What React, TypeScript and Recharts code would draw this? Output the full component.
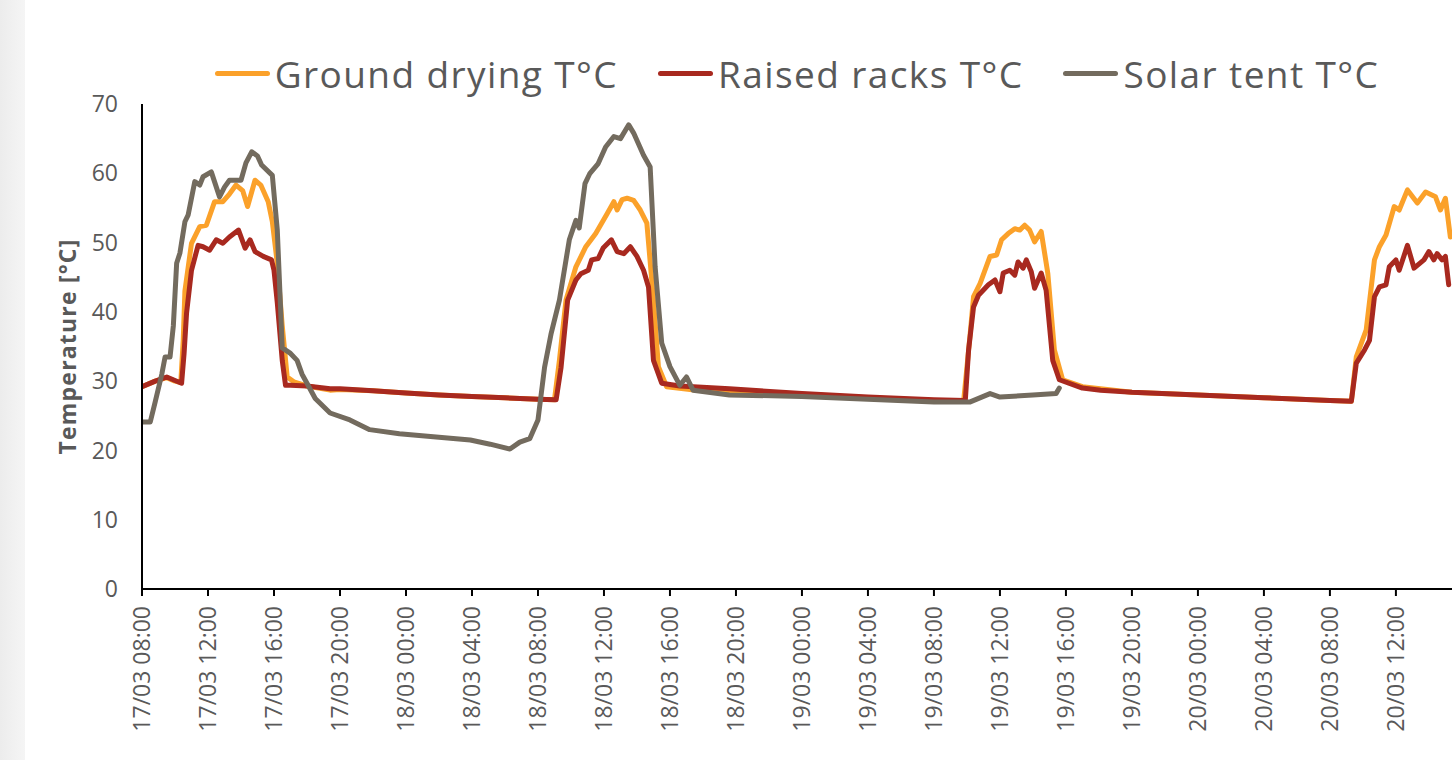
import { CartesianGrid, Line, LineChart, XAxis, YAxis } from "recharts";

// hours since 17/03 08:00, temperature in °C
const groundDrying: [number, number][] = [
  [0, 29.2], [0.8, 30.0], [1.5, 30.5], [2.0, 30.0], [2.35, 29.8], [2.5, 36], [2.6, 43], [3.0, 49.9],
  [3.5, 52.3], [3.9, 52.5], [4.4, 55.9], [4.9, 55.9], [5.3, 57.0], [5.7, 58.3], [6.1, 57.5], [6.4, 55.2],
  [6.85, 59], [7.2, 58.3], [7.65, 55.9], [7.9, 53], [8.2, 47], [8.5, 38], [8.8, 30.6], [9.2, 29.9],
  [10, 29.3], [11.4, 28.7], [12, 28.8], [14, 28.6], [16, 28.3], [18, 28.0], [20, 27.8], [22, 27.6],
  [24, 27.4], [25.0, 27.3], [25.3, 33], [25.7, 41.7], [26.3, 46.5], [26.9, 49.4], [27.5, 51.3],
  [28.2, 54.2], [28.6, 55.9], [28.8, 54.7], [29.1, 56.2], [29.4, 56.4], [29.8, 56.1], [30.2, 54.7],
  [30.6, 52.8], [31.0, 41.7], [31.3, 32.1], [31.8, 29.2], [33.6, 28.7], [36, 28.5], [40, 28.1],
  [44, 27.6], [48, 27.2], [49.8, 27.1], [50.2, 36.9], [50.4, 42.2], [50.8, 44.1], [51.4, 48],
  [51.8, 48.2], [52.1, 50.4], [52.5, 51.3], [52.9, 52], [53.2, 51.8], [53.5, 52.5], [53.8, 51.8],
  [54.1, 50.1], [54.5, 51.6], [54.9, 45.6], [55.3, 34.5], [55.8, 30.2], [57, 29.2], [60, 28.4],
  [64, 28.0], [68, 27.6], [72, 27.2], [73.3, 27.1], [73.6, 33.5], [74.2, 37.4], [74.7, 47.5],
  [75.0, 49.4], [75.4, 51.1], [75.9, 55.2], [76.2, 54.7], [76.7, 57.6], [77.3, 55.7], [77.8, 57.3],
  [78.4, 56.6], [78.7, 54.7], [79.0, 56.4], [79.3, 50.8],
];

const raisedRacks: [number, number][] = [
  [0, 29.2], [0.8, 30.0], [1.5, 30.6], [2.0, 30.1], [2.4, 29.7], [2.55, 34], [2.7, 39.8], [3.0, 46],
  [3.4, 49.6], [3.7, 49.4], [4.1, 48.9], [4.5, 50.4], [4.9, 49.9], [5.3, 50.8], [5.85, 51.8],
  [6.25, 49.2], [6.55, 50.4], [6.85, 48.7], [7.35, 48], [7.85, 47.5], [8.0, 46], [8.2, 41.3],
  [8.5, 33], [8.7, 29.4], [9.0, 29.4], [10, 29.3], [11.4, 28.9], [12, 28.9], [14, 28.6], [16, 28.3],
  [18, 28.0], [20, 27.8], [22, 27.6], [24, 27.4], [25.1, 27.3], [25.4, 32], [25.8, 41.7], [26.3, 44.6],
  [26.6, 45.5], [27.05, 46], [27.25, 47.5], [27.65, 47.7], [27.95, 49.2], [28.45, 50.4], [28.8, 48.7],
  [29.2, 48.4], [29.6, 49.4], [30.0, 48], [30.4, 46], [30.7, 43.6], [31.0, 33], [31.5, 29.7],
  [32.6, 29.3], [35.6, 28.9], [40, 28.2], [44, 27.7], [48, 27.3], [49.9, 27.2], [50.1, 34.5],
  [50.4, 40.7], [50.7, 42.4], [51.3, 43.9], [51.7, 44.6], [52.0, 42.9], [52.2, 45.6], [52.6, 46],
  [52.9, 45.3], [53.1, 47.2], [53.4, 46.3], [53.6, 47.5], [53.9, 45.8], [54.1, 43.4], [54.5, 45.6],
  [54.8, 43.1], [55.2, 33], [55.6, 30.2], [57, 29.0], [58.1, 28.7], [60, 28.4], [64, 28.0], [68, 27.6],
  [72, 27.2], [73.3, 27.1], [73.6, 32.6], [74.1, 34.5], [74.4, 35.9], [74.7, 42.2], [75.0, 43.6],
  [75.4, 43.9], [75.6, 46.5], [76.0, 47.5], [76.2, 46], [76.7, 49.6], [77.1, 46.3], [77.7, 47.5],
  [78.0, 48.7], [78.3, 47.5], [78.5, 48.4], [78.8, 47.5], [79.0, 48], [79.2, 43.9],
];

const solarTent: [number, number][] = [
  [0, 24.1], [0.5, 24.1], [0.8, 27], [1.2, 31], [1.4, 33.5], [1.7, 33.5], [1.9, 38], [2.1, 47],
  [2.3, 48.5], [2.6, 53], [2.8, 54], [3.2, 58.8], [3.5, 58.3], [3.7, 59.5], [4.2, 60.2], [4.7, 56.6],
  [5.0, 58], [5.3, 59], [6.0, 59], [6.3, 61.5], [6.65, 63.1], [7.0, 62.5], [7.25, 61.2], [7.9, 59.7],
  [8.2, 51.8], [8.5, 34.8], [9.0, 34.0], [9.4, 33], [9.7, 31], [10.0, 29.7], [10.5, 27.5], [11.4, 25.4],
  [12.6, 24.4], [13.8, 23], [15.6, 22.4], [18, 21.9], [19.9, 21.5], [21.1, 20.9], [22.3, 20.2],
  [22.9, 21.2], [23.5, 21.7], [24.0, 24.4], [24.4, 32], [24.8, 36.9], [25.3, 41.7], [25.9, 50.4],
  [26.3, 53.2], [26.5, 52.1], [26.85, 58.5], [27.15, 60], [27.65, 61.4], [28.1, 63.8], [28.6, 65.3],
  [29.0, 65], [29.5, 67], [29.8, 65.8], [30.4, 62.6], [30.8, 60.9], [31.1, 46.5], [31.5, 35.5],
  [32.0, 32.1], [32.6, 29.4], [33.0, 30.6], [33.4, 28.7], [35.6, 28.0], [40, 27.8], [44, 27.4],
  [48, 27.0], [50.2, 27.0], [51.4, 28.2], [52, 27.7], [54, 28.0], [55.4, 28.2], [55.6, 29.0],
];

const tickHours = [0, 4, 8, 12, 16, 20, 24, 28, 32, 36, 40, 44, 48, 52, 56, 60, 64, 68, 72, 76];
const tickLabels = [
  "17/03 08:00", "17/03 12:00", "17/03 16:00", "17/03 20:00",
  "18/03 00:00", "18/03 04:00", "18/03 08:00", "18/03 12:00", "18/03 16:00", "18/03 20:00",
  "19/03 00:00", "19/03 04:00", "19/03 08:00", "19/03 12:00", "19/03 16:00", "19/03 20:00",
  "20/03 00:00", "20/03 04:00", "20/03 08:00", "20/03 12:00",
];
const yTicks = [0, 10, 20, 30, 40, 50, 60, 70];

const series = [
  { name: "Ground drying T°C", color: "#FBA12A", points: groundDrying },
  { name: "Raised racks T°C", color: "#A8291F", points: raisedRacks },
  { name: "Solar tent T°C", color: "#736B5E", points: solarTent },
];

const font = "'Open Sans', sans-serif";
const textColor = "#595959";

const XTick = ({ x, y, payload }: any) => (
  <g transform={`translate(${x},${y})`}>
    <text transform="rotate(-90)" x={-8} y={0} dy="0.36em" textAnchor="end" fill={textColor} fontSize={23} fontFamily={font}>
      {tickLabels[tickHours.indexOf(payload.value)]}
    </text>
  </g>
);

export default function App() {
  return (
    <div style={{ position: "absolute", left: 0, top: 0, width: 1452, height: 760, overflow: "hidden", background: "#fff" }}>
      <div style={{ position: "absolute", left: 0, top: 0, width: 25, height: 760, background: "linear-gradient(90deg, #ececec, #f5f5f5)" }} />
      <div style={{ position: "absolute", left: 142, top: 50, width: 1310, height: 46, display: "flex", justifyContent: "center", alignItems: "center", gap: 40, fontFamily: font, fontSize: 37, letterSpacing: 1.4, color: textColor }}>
        {series.map((s) => (
          <span key={s.name} style={{ display: "flex", alignItems: "center", gap: 5 }}>
            <span style={{ width: 55, height: 5, borderRadius: 3, background: s.color }} />
            {s.name}
          </span>
        ))}
      </div>
      <LineChart width={1452} height={760} margin={{ top: 104, right: 0, bottom: 11, left: 22 }}>
        <CartesianGrid stroke="none" />
        <XAxis
          dataKey="h"
          type="number"
          domain={[0, 79.4]}
          allowDataOverflow
          ticks={tickHours}
          interval={0}
          height={160}
          tick={<XTick />}
          tickSize={7}
          axisLine={{ stroke: "#000", strokeWidth: 2 }}
          tickLine={{ stroke: "#000", strokeWidth: 2 }}
        />
        <YAxis
          type="number"
          domain={[0, 70]}
          ticks={yTicks}
          width={120}
          tickSize={0}
          tickMargin={24}
          tick={{ fill: textColor, fontSize: 23, fontFamily: font }}
          axisLine={{ stroke: "#000", strokeWidth: 2 }}
          tickLine={false}
          label={{ value: "Temperature [°C]", angle: -90, position: "center", dx: -14, fill: textColor, fontSize: 23, fontWeight: 700, letterSpacing: 1.2, fontFamily: font }}
        />
        {series.map((s) => (
          <Line
            key={s.name}
            data={s.points.map(([h, t]) => ({ h, t }))}
            dataKey="t"
            name={s.name}
            stroke={s.color}
            strokeWidth={5}
            strokeLinejoin="round"
            strokeLinecap="round"
            dot={false}
            activeDot={false}
            isAnimationActive={false}
          />
        ))}
      </LineChart>
    </div>
  );
}
